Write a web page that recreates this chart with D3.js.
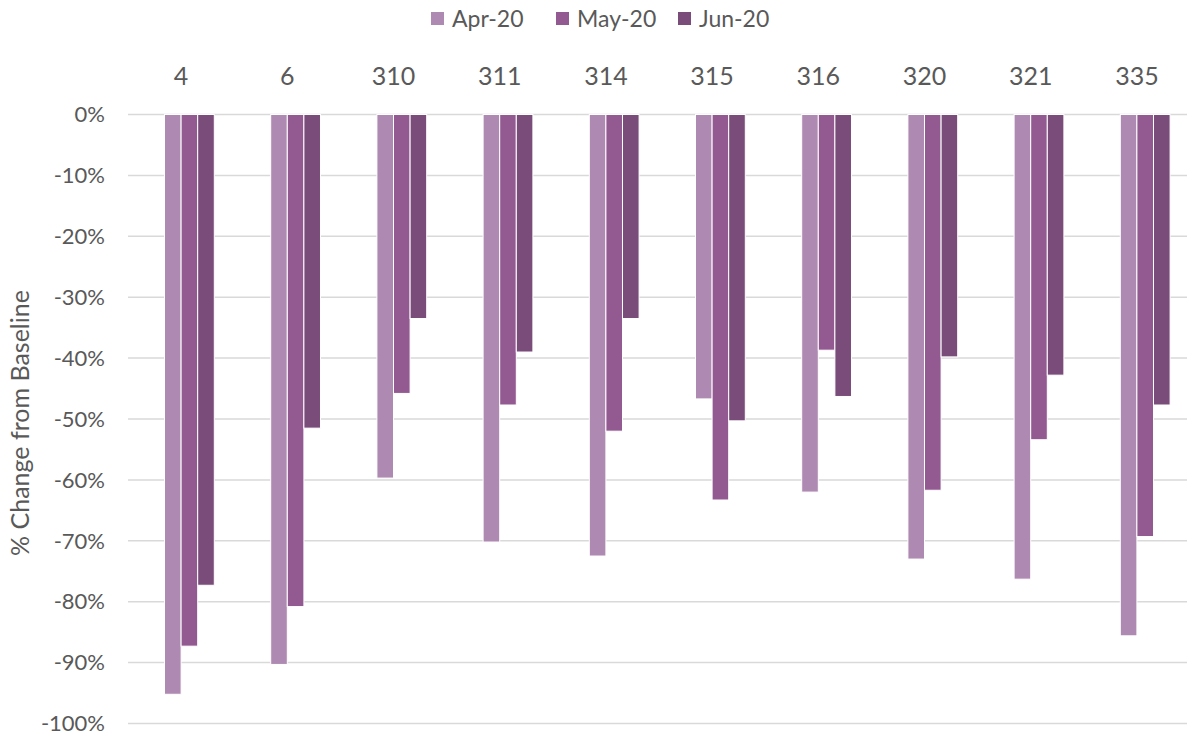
<!DOCTYPE html>
<html>
<head>
<meta charset="utf-8">
<script src="https://cdn.jsdelivr.net/npm/d3@7"></script>
<style>
  html, body { margin: 0; padding: 0; background: #fff; }
  svg { display: block; font-family: Lato, "Open Sans", sans-serif; }
</style>
</head>
<body>
<svg id="chart" width="1187" height="735"></svg>
<script>
const categories = ["4", "6", "310", "311", "314", "315", "316", "320", "321", "335"];
const seriesNames = ["Apr-20", "May-20", "Jun-20"];
const apr20 = [-95.2, -90.3, -59.7, -70.2, -72.5, -46.7, -62.0, -73.0, -76.3, -85.6];
const may20 = [-87.3, -80.8, -45.8, -47.7, -52.0, -63.3, -38.7, -61.7, -53.4, -69.3];
const jun20 = [-77.3, -51.5, -33.5, -39.0, -33.5, -50.3, -46.3, -39.8, -42.8, -47.7];
const yTicks = [0, -10, -20, -30, -40, -50, -60, -70, -80, -90, -100];
const colors = ["#ae89b1", "#925a91", "#794c79"];

const seriesValues = [apr20, may20, jun20];
const svg = d3.select("#chart");
const margin = { left: 128, right: -3, top: 114.5, bottom: 11.5 };
const W = 1187, H = 735;

const x0 = d3.scaleBand().domain(categories).range([margin.left, W - margin.right]).paddingInner(0).paddingOuter(0);
// Slot layout includes an empty leading slot (as in the source chart)
const slots = ["", ...seriesNames];
const groupW = x0.bandwidth() * 0.625;
const x1 = d3.scaleBand().domain(slots).range([x0.bandwidth() / 2 - groupW / 2, x0.bandwidth() / 2 + groupW / 2]);
const y = d3.scaleLinear().domain([0, -100]).range([margin.top, H - margin.bottom]);

// gridlines
svg.append("g").selectAll("line").data(yTicks).join("line")
  .attr("x1", margin.left).attr("x2", W)
  .attr("y1", d => y(d)).attr("y2", d => y(d))
  .attr("stroke", "#d9d9d9").attr("stroke-width", 1.5);

// y tick labels
svg.append("g").selectAll("text").data(yTicks).join("text")
  .attr("x", 105).attr("y", d => y(d)).attr("dy", "0.35em")
  .attr("text-anchor", "end").attr("font-size", 22).attr("fill", "#595959")
  .text(d => d + "%");

// category labels at top
svg.append("g").selectAll("text").data(categories).join("text")
  .attr("x", d => x0(d) + x0.bandwidth() / 2).attr("y", 85)
  .attr("text-anchor", "middle").attr("font-size", 25).attr("fill", "#595959")
  .text(d => d);

// bars
const bars = svg.append("g");
seriesNames.forEach((s, si) => {
  bars.append("g").selectAll("rect").data(categories).join("rect")
    .attr("x", c => x0(c) + x1(s))
    .attr("width", x1.bandwidth())
    .attr("y", y(0))
    .attr("height", (c, i) => y(seriesValues[si][i]) - y(0))
    .attr("fill", colors[si])
    .attr("stroke", "#fff").attr("stroke-width", 1);
});

// y axis title
svg.append("text")
  .attr("transform", "translate(29,423) rotate(-90)")
  .attr("text-anchor", "middle").attr("font-size", 25).attr("fill", "#595959")
  .text("% Change from Baseline");

// legend
const legendX = [431, 556, 678];
const lg = svg.append("g");
seriesNames.forEach((s, i) => {
  lg.append("rect").attr("x", legendX[i]).attr("y", 12).attr("width", 13).attr("height", 13).attr("fill", colors[i]);
  lg.append("text").attr("x", legendX[i] + 21).attr("y", 18.5).attr("dy", "0.35em")
    .attr("font-size", 23).attr("fill", "#595959").text(s);
});
</script>
</body>
</html>
